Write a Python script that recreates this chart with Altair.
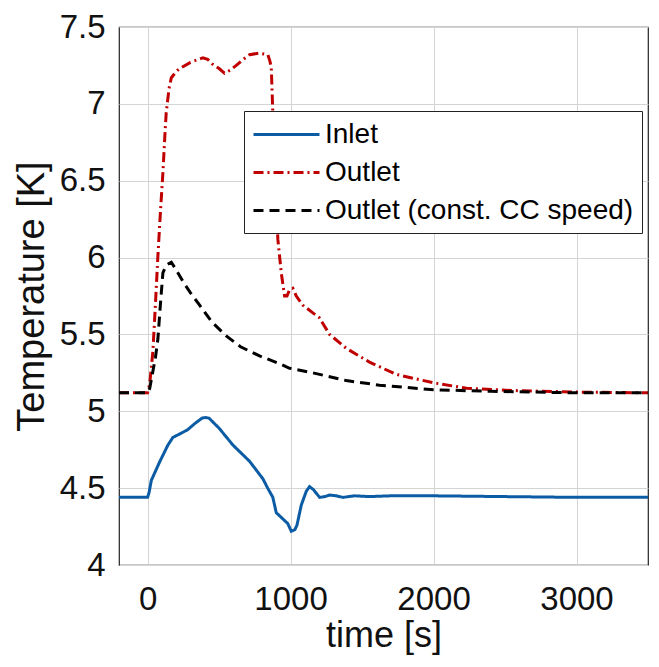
import altair as alt
import pandas as pd

series_names = ["Inlet", "Outlet", "Outlet (const. CC speed)"]
series_colors = ["#0b5ca4", "#c00000", "#000000"]
series_dashes = [[1, 0], [10, 4, 2, 4], [10, 6]]

inlet_t = [-200, 0, 10, 26, 50, 84, 142, 177, 240, 280, 330, 380, 405, 430, 500, 597, 713, 807, 840, 876, 900, 946, 980, 1005, 1030, 1045, 1075, 1110, 1133, 1160, 1203, 1240, 1273, 1320, 1366, 1450, 1550, 1700, 2000, 2500, 3000, 3500]
inlet_v = [4.44, 4.44, 4.47, 4.55, 4.60, 4.67, 4.78, 4.83, 4.86, 4.88, 4.92, 4.955, 4.96, 4.955, 4.89, 4.78, 4.675, 4.56, 4.50, 4.44, 4.34, 4.30, 4.27, 4.22, 4.23, 4.26, 4.39, 4.48, 4.51, 4.49, 4.44, 4.445, 4.455, 4.45, 4.44, 4.45, 4.445, 4.45, 4.45, 4.445, 4.44, 4.44]

outlet_t = [-200, 0, 15, 37, 55, 72, 90, 107, 120, 130, 150, 166, 200, 224, 300, 387, 420, 452, 500, 538, 580, 620, 670, 713, 780, 841, 855, 865, 876, 890, 911, 935, 958, 975, 993, 1016, 1040, 1086, 1156, 1200, 1273, 1389, 1552, 1739, 2000, 2231, 2557, 3000, 3500]
outlet_v = [5.12, 5.12, 5.18, 5.39, 5.70, 6.01, 6.30, 6.55, 6.78, 6.94, 7.10, 7.17, 7.21, 7.23, 7.27, 7.30, 7.29, 7.26, 7.23, 7.20, 7.22, 7.25, 7.29, 7.32, 7.33, 7.32, 7.28, 7.24, 6.94, 6.60, 6.12, 5.90, 5.75, 5.75, 5.79, 5.80, 5.75, 5.69, 5.64, 5.61, 5.50, 5.41, 5.32, 5.24, 5.185, 5.15, 5.135, 5.125, 5.12]

const_t = [-200, 0, 15, 37, 55, 72, 90, 107, 130, 166, 200, 250, 300, 364, 450, 550, 650, 783, 923, 993, 1156, 1389, 1622, 2000, 2400, 3000, 3500]
const_v = [5.12, 5.12, 5.15, 5.26, 5.35, 5.47, 5.70, 5.90, 5.95, 5.97, 5.92, 5.84, 5.77, 5.69, 5.58, 5.49, 5.42, 5.36, 5.31, 5.28, 5.25, 5.20, 5.17, 5.14, 5.13, 5.12, 5.12]

x_ticks = [0, 1000, 2000, 3000]
y_ticks = [4, 4.5, 5, 5.5, 6, 6.5, 7, 7.5]

rows = []
for name, ts, vs in zip(series_names, [inlet_t, outlet_t, const_t], [inlet_v, outlet_v, const_v]):
    for i, (t, v) in enumerate(zip(ts, vs)):
        rows.append({"series": name, "t": t, "v": v, "order": i})
df = pd.DataFrame(rows)

FONT = "Liberation Sans"

legend = alt.Legend(
    title=None, orient="none", legendX=125, legendY=84,
    symbolType="M-1,0H3.714", symbolSize=784, symbolStrokeWidth=3,
    symbolFillColor="transparent",
    labelFontSize=28, labelFont=FONT, labelColor="#000000",
    fillColor="white", strokeColor="#222222", padding=8,
    rowPadding=8, labelOffset=42, labelLimit=500,
)

chart = alt.Chart(df).mark_line(strokeWidth=3, clip=True).encode(
    x=alt.X("t:Q", scale=alt.Scale(domain=[-200, 3500], nice=False, zero=False),
            axis=alt.Axis(values=x_ticks, title="time [s]", format="d")),
    y=alt.Y("v:Q", scale=alt.Scale(domain=[4, 7.5], nice=False, zero=False),
            axis=alt.Axis(values=y_ticks, title="Temperature [K]", format="~g")),
    color=alt.Color("series:N", scale=alt.Scale(domain=series_names, range=series_colors), legend=legend),
    strokeDash=alt.StrokeDash("series:N", scale=alt.Scale(domain=series_names, range=series_dashes), legend=legend),
    order="order:Q",
).properties(
    width=529, height=538,
    autosize=alt.AutoSizeParams(type="none"),
    padding={"left": 111, "top": 19, "right": 3, "bottom": 94},
).configure_view(
    stroke="#222222", strokeWidth=1.2
).configure_axis(
    labelFont=FONT, titleFont=FONT, labelFontSize=33, labelColor="#111111",
    titleColor="#111111", titleFontWeight="normal",
    gridColor="#d4d4d4", gridWidth=1, domain=False, ticks=False, tickSize=0,
).configure_axisY(labelPadding=14, titlePadding=8, titleFontSize=38).configure_axisX(
    labelPadding=18, titlePadding=2, titleFontSize=36)

chart.save("out.html", embed_options={"renderer": "svg", "actions": False})
